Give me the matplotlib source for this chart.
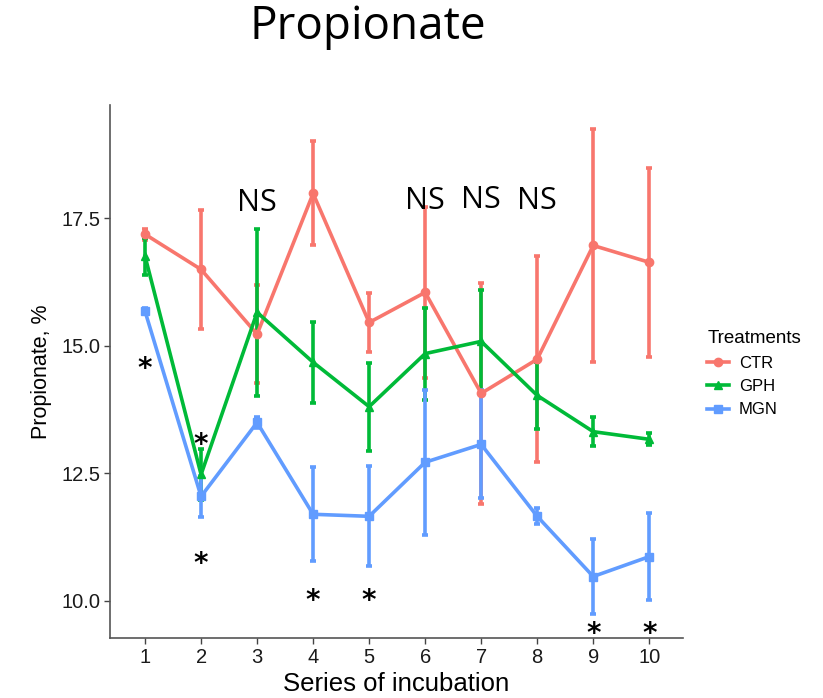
import matplotlib.pyplot as plt
from matplotlib.lines import Line2D

# Propionate (%) per incubation series, mean and error-bar half width
series = [1, 2, 3, 4, 5, 6, 7, 8, 9, 10]
ctr_mean = [17.19, 16.50, 15.23, 17.99, 15.46, 16.05, 14.07, 14.74, 16.97, 16.64]
ctr_err = [0.11, 1.16, 0.96, 1.02, 0.58, 1.67, 2.17, 2.02, 2.29, 1.85]
gph_mean = [16.76, 12.48, 15.66, 14.68, 13.81, 14.85, 15.09, 14.03, 13.32, 13.17]
gph_err = [0.36, 0.50, 1.64, 0.79, 0.86, 0.90, 1.01, 0.65, 0.28, 0.12]
mgn_mean = [15.68, 12.05, 13.50, 11.70, 11.66, 12.72, 13.07, 11.66, 10.48, 10.87]
mgn_err = [0.06, 0.40, 0.10, 0.92, 0.98, 1.42, 1.06, 0.16, 0.73, 0.86]

# significance marks
star_x = [1, 2, 2, 4, 5, 9, 10]
star_y = [14.55, 13.05, 10.72, 10.00, 10.00, 9.36, 9.36]
ns_x = [3, 6, 7, 8]
ns_y = [17.80, 17.84, 17.87, 17.84]

colors = {"CTR": "#F8766D", "GPH": "#00BA38", "MGN": "#619CFF"}
markers = {"CTR": "o", "GPH": "^", "MGN": "s"}

fig = plt.figure(figsize=(8.23, 6.98), dpi=100)
ax = fig.add_axes([0.1337, 0.086, 0.696, 0.764])

groups = [("CTR", ctr_mean, ctr_err), ("GPH", gph_mean, gph_err), ("MGN", mgn_mean, mgn_err)]
for name, mean, err in groups:
    ax.errorbar(series, mean, yerr=err, color=colors[name], marker=markers[name],
                markersize=6, linewidth=2.6, elinewidth=2.6, capsize=2.5, capthick=2.6)

for x, y in zip(star_x, star_y):
    ax.text(x, y, "*", fontsize=20, fontweight="bold", ha="center", va="center",
            family="DejaVu Sans")
for x, y in zip(ns_x, ns_y):
    ax.text(x, y, "NS", fontsize=22, ha="center", va="center", family="Open Sans")

ax.set_xlim(0.375, 10.6)
ax.set_ylim(9.275, 19.73)
ax.set_xticks(series)
ax.set_yticks([10.0, 12.5, 15.0, 17.5])
ax.set_yticklabels(["10.0", "12.5", "15.0", "17.5"])
ax.tick_params(labelsize=14.5, colors="#444444", length=4, width=1, pad=3)
ax.tick_params(axis="both", labelcolor="#1a1a1a")
for side in ["top", "right"]:
    ax.spines[side].set_visible(False)
for side in ["left", "bottom"]:
    ax.spines[side].set_color("#555555")
    ax.spines[side].set_linewidth(1.2)
ax.set_xlabel("Series of incubation", fontsize=18.5, family="Liberation Sans", labelpad=4)
ax.set_ylabel("Propionate, %", fontsize=15.5, family="Liberation Sans", labelpad=7)
for lab in ax.get_xticklabels() + ax.get_yticklabels():
    lab.set_family("Liberation Sans")

handles = [Line2D([0], [0], color=colors[n], marker=markers[n], markersize=6, linewidth=2.6)
           for n in ["CTR", "GPH", "MGN"]]
leg = fig.legend(handles, ["CTR", "GPH", "MGN"], title="Treatments", loc="upper left",
                 bbox_to_anchor=(0.841, 0.548), frameon=False,
                 handlelength=1.3, handletextpad=0.6, labelspacing=0.5, alignment="left",
                 prop={"family": "Liberation Sans", "size": 12})
leg.get_title().set_family("Liberation Sans")
leg.get_title().set_fontsize(13.5)

fig.text(0.447, 0.962, "Propionate", fontsize=33, ha="center", va="center", family="Open Sans")

fig.savefig("out.png", dpi=100)
